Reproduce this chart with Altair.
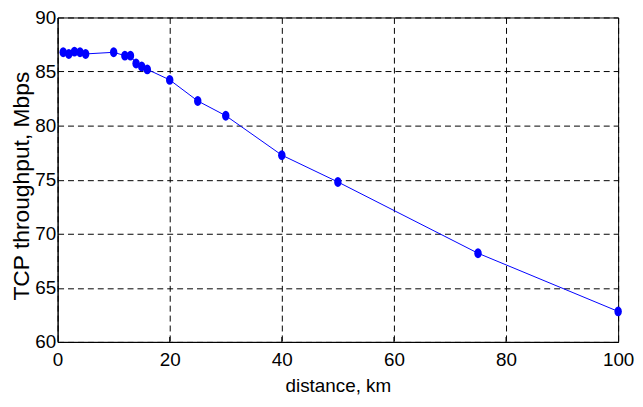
import altair as alt
import pandas as pd

distance_km = [1, 2, 3, 4, 5, 10, 12, 13, 14, 15, 16, 20, 25, 30, 40, 50, 75, 100]
throughput_mbps = [86.78, 86.63, 86.84, 86.78, 86.63, 86.78, 86.47, 86.47, 85.75, 85.47,
                   85.2, 84.23, 82.28, 80.92, 77.27, 74.79, 68.2, 62.82]

x_ticks = [0, 20, 40, 60, 80, 100]
y_ticks = [60, 65, 70, 75, 80, 85, 90]

df = pd.DataFrame({"distance": distance_km, "throughput": throughput_mbps})
ticks_df = pd.DataFrame({"distance": x_ticks[1:-1]})

W, H = 565, 327
FONT = "Liberation Sans, Arial, Helvetica, sans-serif"
ellipse = "M-0.75,0 A0.75,1 0 1,1 0.75,0 A0.75,1 0 1,1 -0.75,0 Z"

x_enc = alt.X("distance:Q", scale=alt.Scale(domain=[0, 100], nice=False),
              axis=alt.Axis(values=x_ticks, title="distance, km", titleFontSize=19,
                            titleFont=FONT, titleFontWeight="normal", titleColor="black",
                            titlePadding=7, labelFontSize=19, labelFont=FONT,
                            labelColor="black", labelPadding=9, tickSize=0,
                            labelFlush=False, domainColor="black",
                            gridColor="black", gridDash=[6, 4], gridOpacity=1, gridWidth=1))
y_enc = alt.Y("throughput:Q", scale=alt.Scale(domain=[60, 90], nice=False, zero=False),
              axis=alt.Axis(values=y_ticks, title="TCP throughput, Mbps", titleFontSize=23,
                            titleFont=FONT, titleFontWeight="normal", titleColor="black",
                            titlePadding=1, titleY=H / 2 + 6, labelFontSize=19, labelFont=FONT,
                            labelColor="black", labelPadding=2, tickSize=0,
                            labelFlush=False, domainColor="black",
                            gridColor="black", gridDash=[6, 4], gridOpacity=1, gridWidth=1))

line = alt.Chart(df).mark_line(color="#0000ff", strokeWidth=1).encode(x=x_enc, y=y_enc)
pts = alt.Chart(df).mark_point(shape=ellipse, filled=True, color="#0000ff", size=100,
                               opacity=1).encode(x="distance:Q", y="throughput:Q")
ticks = alt.Chart(ticks_df).mark_tick(color="black", orient="vertical", size=5,
                                      thickness=1, opacity=1).encode(
    x="distance:Q", y=alt.value(H - 2.5))

chart = (line + ticks + pts).properties(
    width=W, height=H,
    autosize=alt.AutoSizeParams(type="none"),
    padding={"left": 50, "top": 8, "right": 17, "bottom": 56},
    background="white",
).configure_view(stroke="black", strokeWidth=1)

chart.save("out.html", embed_options={"renderer": "svg", "actions": False})
